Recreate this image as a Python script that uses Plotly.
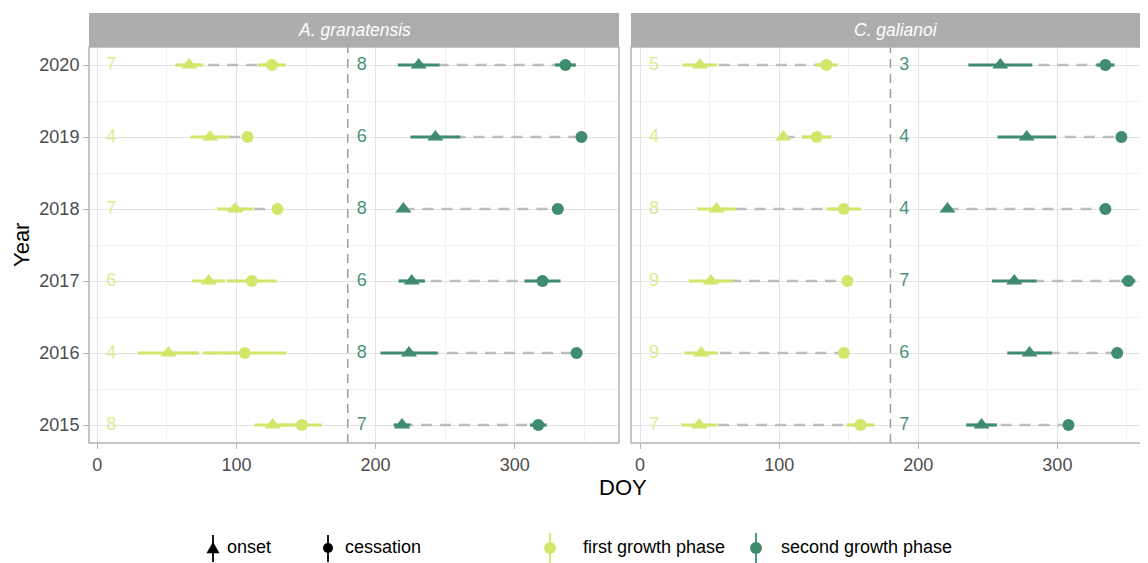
import plotly.graph_objects as go

# ---------------- data ----------------
years = [2015, 2016, 2017, 2018, 2019, 2020]
species = ["A. granatensis", "C. galianoi"]

# A. granatensis
ag_p1_onset = [126, 51, 80, 99, 81, 66]
ag_p1_onset_se = [13, 22, 12, 13, 14, 10]
ag_p1_cess = [147, 106, 111, 129.5, 108, 125.5]
ag_p1_cess_se = [14.5, 30, 18, 1, 1, 10]
ag_p1_n = [8, 4, 6, 7, 4, 7]
ag_p2_onset = [219, 224, 226, 220, 243, 231]
ag_p2_onset_se = [6, 20.5, 9.5, 2, 18, 15]
ag_p2_cess = [317, 344.5, 320, 331, 348, 336.5]
ag_p2_cess_se = [6, 1, 13, 4, 1, 7.5]
ag_p2_n = [7, 8, 6, 8, 6, 8]

# C. galianoi
cg_p1_onset = [42.5, 44, 51, 55, 103, 43]
cg_p1_onset_se = [13, 12, 16, 14, 2, 12.5]
cg_p1_cess = [158.5, 146.5, 149, 146.5, 127, 134]
cg_p1_cess_se = [10, 1, 1, 12.5, 10.5, 8]
cg_p1_n = [7, 9, 9, 8, 4, 5]
cg_p2_onset = [245.5, 280, 269, 221, 278, 259]
cg_p2_onset_se = [11, 16, 16, 2, 21, 23]
cg_p2_cess = [308, 343, 351, 334.5, 346, 334.5]
cg_p2_cess_se = [1, 4, 5, 3, 1, 6.5]
cg_p2_n = [7, 6, 7, 4, 4, 3]

label_x_p1 = 10
label_x_p2 = 190
phase_split = 180
x_ticks = [0, 100, 200, 300]

# ---------------- style ----------------
C1 = "#D3E66A"
C2 = "#3F8C6F"
T1 = "#DCEB95"
T2 = "#4C9479"
DASH = "#BDBDBD"
FONT = "Liberation Sans, Arial, sans-serif"

OFF = 8  # page body margin offset
W, H = 1148 - OFF, 563 - OFF
ML, MR, MT, MB = 89 - OFF, 0, 47 - OFF, 120
PW = W - ML - MR
PH = H - MT - MB


def px(xp):
    return (xp - OFF - ML) / PW


def py(yp):
    return (H - MB - (yp - OFF)) / PH


dom1 = [0, px(619)]
dom2 = [px(631), 1]

fig = go.Figure()

panels = [
    ("x", "y", (ag_p1_onset, ag_p1_onset_se, ag_p1_cess, ag_p1_cess_se, ag_p1_n),
     (ag_p2_onset, ag_p2_onset_se, ag_p2_cess, ag_p2_cess_se, ag_p2_n)),
    ("x2", "y2", (cg_p1_onset, cg_p1_onset_se, cg_p1_cess, cg_p1_cess_se, cg_p1_n),
     (cg_p2_onset, cg_p2_onset_se, cg_p2_cess, cg_p2_cess_se, cg_p2_n)),
]

for xa, ya, ph1, ph2 in panels:
    for (on, on_se, ce, ce_se, n), col in ((ph1, C1), (ph2, C2)):
        lx, ly = [], []
        for yr, a, b in zip(years, on, ce):
            lx += [a, b, None]
            ly += [yr, yr, None]
        fig.add_trace(go.Scatter(x=lx, y=ly, mode="lines", xaxis=xa, yaxis=ya,
                                 line=dict(color=DASH, width=2.6, dash="11px,8px"),
                                 hoverinfo="skip", showlegend=False))
    for (on, on_se, ce, ce_se, n), col, tcol, lx in ((ph1, C1, T1, label_x_p1), (ph2, C2, T2, label_x_p2)):
        fig.add_trace(go.Scatter(x=on, y=years, mode="markers", xaxis=xa, yaxis=ya,
                                 marker=dict(symbol="triangle-up", size=14, color=col),
                                 error_x=dict(type="data", array=on_se, visible=True,
                                              color=col, thickness=3.2, width=0),
                                 showlegend=False))
        fig.add_trace(go.Scatter(x=ce, y=years, mode="markers", xaxis=xa, yaxis=ya,
                                 marker=dict(symbol="circle", size=12, color=col),
                                 error_x=dict(type="data", array=ce_se, visible=True,
                                              color=col, thickness=3.2, width=0),
                                 showlegend=False))
        fig.add_trace(go.Scatter(x=[lx] * len(years), y=years, mode="text", xaxis=xa, yaxis=ya,
                                 text=[str(v) for v in n], textposition="middle center",
                                 textfont=dict(family=FONT, size=18, color=tcol),
                                 showlegend=False, hoverinfo="skip"))

grid_major = "#E2E2E2"
grid_minor = "#F1F1F1"
xcommon = dict(tickvals=x_ticks, ticks="outside", ticklen=5, tickcolor="#B3B3B3",
               showgrid=True, gridcolor=grid_major, gridwidth=1, zeroline=False,
               minor=dict(dtick=50, tick0=0, showgrid=True, gridcolor=grid_minor, gridwidth=1),
               tickfont=dict(family=FONT, size=18, color="#4D4D4D"), showline=False)
ycommon = dict(range=[2014.75, 2020.25], tickvals=years, showgrid=True, gridcolor=grid_major,
               zeroline=False,
               minor=dict(dtick=0.5, tick0=2014.5, showgrid=True, gridcolor=grid_minor, gridwidth=1),
               showline=False)

fig.update_layout(
    width=W, height=H,
    margin=dict(l=ML, r=MR, t=MT, b=MB),
    plot_bgcolor="white", paper_bgcolor="white",
    font=dict(family=FONT),
    xaxis=dict(domain=dom1, range=[-6, 375], anchor="y", **xcommon),
    xaxis2=dict(domain=dom2, range=[-6.5, 365.15], anchor="y2", **xcommon),
    yaxis=dict(anchor="x", ticks="outside", ticklen=5, tickcolor="#B3B3B3",
               tickfont=dict(family=FONT, size=18, color="#4D4D4D"), **ycommon),
    yaxis2=dict(anchor="x2", showticklabels=False, matches="y", **ycommon),
)

shapes = []
for xr, yr in (("x", "y"), ("x2", "y2")):
    shapes.append(dict(type="line", xref=xr, yref=yr + " domain", x0=phase_split, x1=phase_split,
                       y0=0, y1=1, line=dict(color="#9E9E9E", width=1.5, dash="9px,6px")))
BORDER = "#B3B3B3"
shapes.append(dict(type="rect", xref="paper", yref="paper", x0=dom1[0], x1=dom1[1], y0=0, y1=1,
                   line=dict(color=BORDER, width=1.5), fillcolor="rgba(0,0,0,0)"))
shapes.append(dict(type="path", xref="paper", yref="paper",
                   path=f"M 1.01,1 L {dom2[0]},1 L {dom2[0]},0 L 1.01,0",
                   line=dict(color=BORDER, width=1.5)))
STRIP = "#ADADAD"
stop = py(13)
for d in (dom1, [dom2[0], 1.01]):
    shapes.append(dict(type="rect", xref="paper", yref="paper", x0=d[0], x1=d[1], y0=1, y1=stop,
                       line=dict(width=0), fillcolor=STRIP, layer="above"))

annotations = [
    dict(text="<i>A. granatensis</i>", xref="paper", yref="paper", x=(dom1[0] + dom1[1]) / 2,
         y=(1 + stop) / 2, xanchor="center", yanchor="middle", showarrow=False,
         font=dict(family=FONT, size=17.5, color="white")),
    dict(text="<i>C. galianoi</i>", xref="paper", yref="paper", x=px(896),
         y=(1 + stop) / 2, xanchor="center", yanchor="middle", showarrow=False,
         font=dict(family=FONT, size=17.5, color="white")),
    dict(text="DOY", xref="paper", yref="paper", x=px(623), y=py(487), xanchor="center",
         yanchor="middle", showarrow=False, font=dict(family=FONT, size=22, color="black")),
    dict(text="Year", xref="paper", yref="paper", x=px(21), y=py(245), xanchor="center",
         yanchor="middle", showarrow=False, textangle=-90,
         font=dict(family=FONT, size=22, color="black")),
]

LY = 548


def tri(cx, cy, s):
    return (f"M {px(cx - s)},{py(cy + s * 0.8)} L {px(cx + s)},{py(cy + s * 0.8)} "
            f"L {px(cx)},{py(cy - s * 0.95)} Z")


shapes.append(dict(type="line", xref="paper", yref="paper", x0=px(213), x1=px(213),
                   y0=py(535), y1=py(562), line=dict(color="black", width=1.8)))
shapes.append(dict(type="path", xref="paper", yref="paper", path=tri(213, LY, 6.5),
                   fillcolor="black", line=dict(width=0)))
shapes.append(dict(type="line", xref="paper", yref="paper", x0=px(328), x1=px(328),
                   y0=py(535), y1=py(562), line=dict(color="black", width=1.8)))
shapes.append(dict(type="circle", xref="paper", yref="paper", x0=px(323), x1=px(333),
                   y0=py(553), y1=py(543), fillcolor="black", line=dict(width=0)))
for cx, col in ((550, C1), (756, C2)):
    shapes.append(dict(type="line", xref="paper", yref="paper", x0=px(cx), x1=px(cx),
                       y0=py(533), y1=py(563), line=dict(color=col, width=1.8)))
    shapes.append(dict(type="circle", xref="paper", yref="paper", x0=px(cx - 6), x1=px(cx + 6),
                       y0=py(LY + 6), y1=py(LY - 6), fillcolor=col, line=dict(width=0)))

for tx, t in ((225, "onset"), (343, "cessation"), (581, "first growth phase"), (779, "second growth phase")):
    annotations.append(dict(text=t, xref="paper", yref="paper", x=px(tx), y=py(LY - 1),
                            xanchor="left", yanchor="middle", showarrow=False,
                            font=dict(family=FONT, size=18, color="black")))

fig.update_layout(shapes=shapes, annotations=annotations)
fig.write_html("out.html")
